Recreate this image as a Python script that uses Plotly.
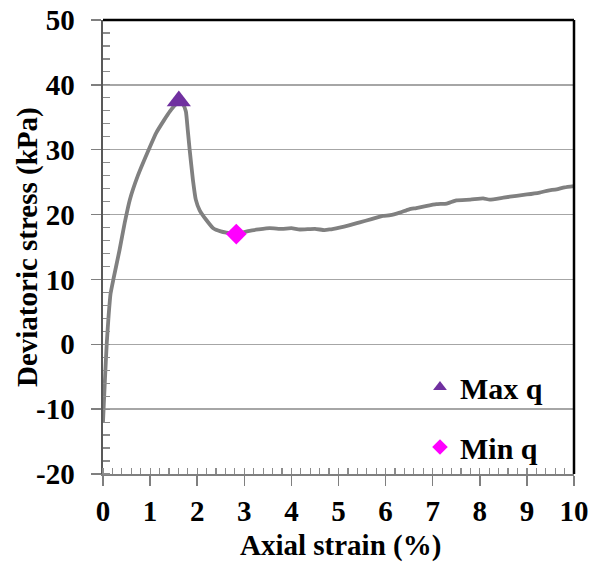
import plotly.graph_objects as go

# Triaxial test record: deviatoric stress vs axial strain
strain = [0.00, 0.04, 0.08, 0.12, 0.16, 0.22, 0.35, 0.46, 0.57, 0.74, 1.00,
          1.13, 1.30, 1.42, 1.52, 1.61, 1.70, 1.76, 1.80, 1.84, 1.91, 1.97,
          2.05, 2.19, 2.34, 2.50, 2.62, 2.83, 3.11, 3.30, 3.54, 3.80, 4.00,
          4.18, 4.50, 4.70, 4.81, 5.02, 5.20, 5.45, 5.70, 5.94, 6.10, 6.30,
          6.50, 6.65, 6.85, 7.08, 7.30, 7.50, 7.80, 8.07, 8.21, 8.50, 8.78,
          9.00, 9.27, 9.45, 9.63, 9.80, 10.00]
stress = [-12.0, -5.6, 0.2, 4.5, 7.8, 10.0, 14.5, 18.7, 22.3, 26.0, 30.5,
          32.6, 34.6, 35.9, 36.8, 37.5, 37.0, 35.9, 33.0, 30.0, 25.3, 22.3,
          20.7, 19.2, 17.9, 17.4, 17.2, 17.0, 17.5, 17.7, 17.9, 17.8, 17.9,
          17.7, 17.8, 17.6, 17.7, 18.0, 18.3, 18.8, 19.3, 19.8, 19.9, 20.3,
          20.8, 21.0, 21.3, 21.6, 21.7, 22.2, 22.3, 22.5, 22.3, 22.6, 22.9,
          23.1, 23.4, 23.7, 23.9, 24.2, 24.4]

max_q = (1.61, 37.5)
min_q = (2.83, 17.0)

x_ticks = list(range(0, 11))
y_ticks = list(range(-20, 51, 10))

FONT = "Liberation Serif, Times New Roman, serif"

fig = go.Figure()
fig.add_trace(go.Scatter(
    x=strain, y=stress, mode="lines",
    line=dict(color="#808080", width=3.8, shape="spline", smoothing=0.4),
    showlegend=False, hoverinfo="skip"))
fig.add_trace(go.Scatter(
    x=[max_q[0]], y=[max_q[1]], mode="markers", name="Max q",
    legendgroup="max",
    marker=dict(symbol="triangle-up", size=21, color="#7030A0")))
fig.add_trace(go.Scatter(
    x=[min_q[0]], y=[min_q[1]], mode="markers", name="Min q",
    legendgroup="min",
    marker=dict(symbol="diamond", size=16, color="#FF00FF")))

axis_font = dict(family=FONT, size=29, color="black", weight="bold")

fig.update_layout(
    width=592, height=562,
    margin=dict(l=103, r=18, t=20, b=88),
    paper_bgcolor="white", plot_bgcolor="white",
    font=dict(family=FONT, color="black"),
    showlegend=True,
    legend=dict(
        x=0.673, y=0.249, xanchor="left", yanchor="top",
        bgcolor="rgba(0,0,0,0)", borderwidth=0,
        font=dict(family=FONT, size=30, color="black", weight="bold"),
        traceorder="grouped", tracegroupgap=18, itemsizing="constant"),
    xaxis=dict(
        range=[0, 10], tickvals=x_ticks, ticktext=[str(v) for v in x_ticks],
        automargin=False,
        showgrid=False, zeroline=False,
        showline=True, linecolor="#7f7f7f", linewidth=2,
        ticks="outside", ticklen=10, tickwidth=1.5, tickcolor="#7f7f7f",
        minor=dict(ticks="inside", dtick=0.2, ticklen=6, tickwidth=1.2,
                   tickcolor="#8c8c8c", showgrid=False),
        tickfont=axis_font, ticklabelstandoff=0,
    ),
    yaxis=dict(
        range=[-20, 50], tickvals=y_ticks, ticktext=[str(v) for v in y_ticks],
        automargin=False,
        showgrid=True, gridcolor="#a6a6a6", gridwidth=1.5, zeroline=False,
        showline=True, linecolor="#595959", linewidth=2.5,
        ticks="outside", ticklen=10, tickwidth=1.5, tickcolor="#7f7f7f",
        minor=dict(ticks="inside", dtick=2, ticklen=7, tickwidth=1.2,
                   tickcolor="#8c8c8c", showgrid=False),
        tickfont=axis_font, ticklabelstandoff=10,
    ),
    annotations=[
        dict(text="Axial strain (%)", xref="paper", yref="paper",
             x=0.5, y=0, xanchor="center", yanchor="middle",
             xshift=2, yshift=-71, showarrow=False, font=axis_font),
        dict(text="Deviatoric stress (kPa)", xref="paper", yref="paper",
             x=0, y=0.5, xanchor="center", yanchor="middle", textangle=-90,
             xshift=-76, showarrow=False, font=axis_font),
    ],
    shapes=[
        dict(type="line", xref="paper", yref="paper", x0=0, x1=1, y0=1, y1=1,
             line=dict(color="black", width=2.5), layer="above"),
        dict(type="line", xref="paper", yref="paper", x0=1, x1=1, y0=0, y1=1,
             line=dict(color="black", width=2.5), layer="above"),
    ],
)

fig.write_html("out.html", config={"staticPlot": True})
